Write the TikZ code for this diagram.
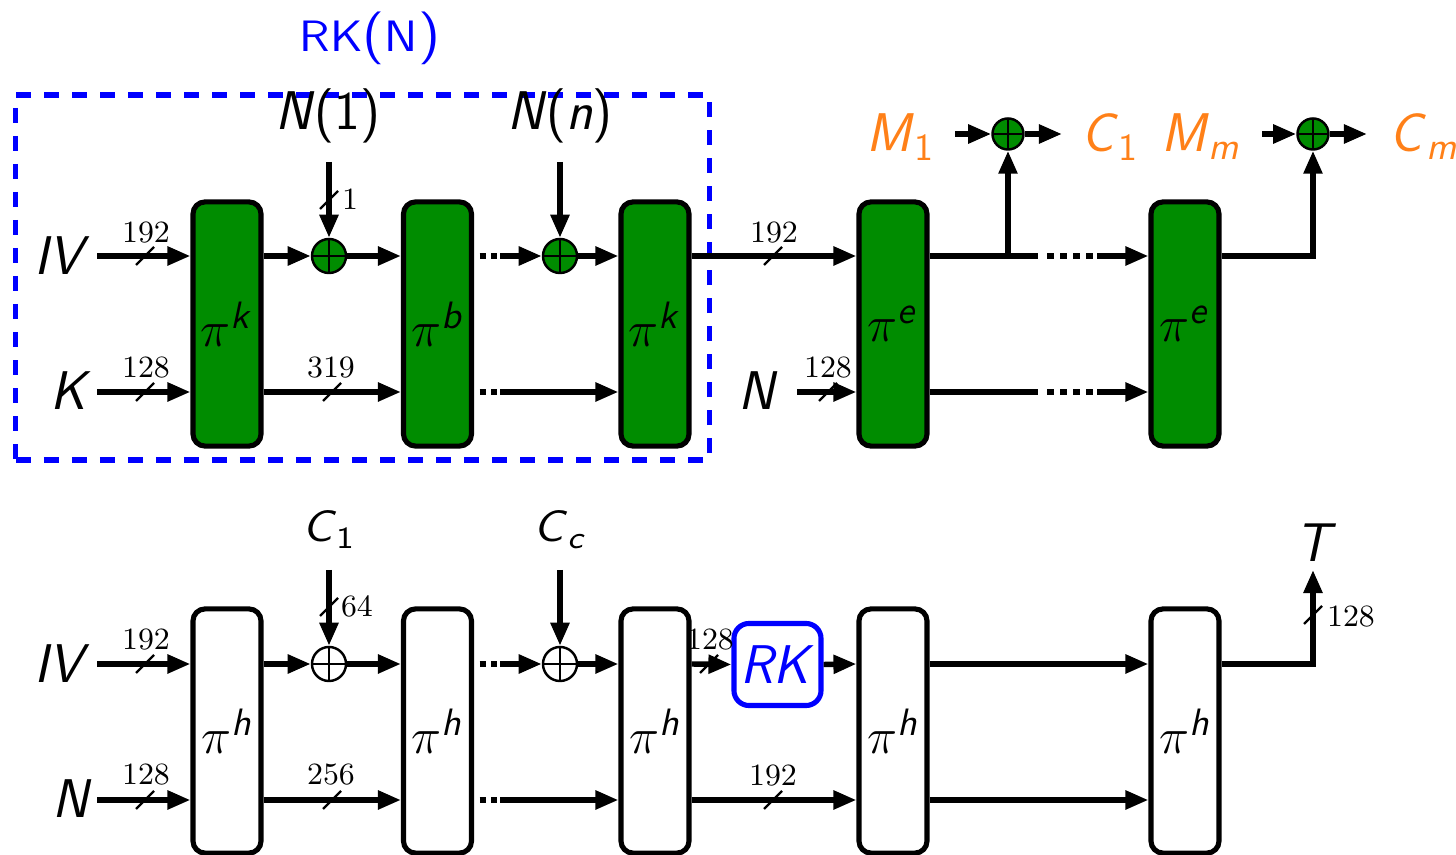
\documentclass[tikz,border=0pt]{standalone}
\usepackage{amsmath}
\usepackage{fontspec}
\usepackage{graphicx}
\usetikzlibrary{arrows.meta}

\definecolor{gblock}{RGB}{0,140,0}
\definecolor{lorange}{RGB}{255,128,24}
\newcommand{\bigf}{\fontsize{15.5}{18}\selectfont\sffamily}
\newcommand{\midf}{\fontsize{12.5}{14}\selectfont\sffamily}
\newcommand{\numf}{\fontsize{8.8}{10}\selectfont\rmfamily}
\newcommand{\piS}[1]{$\pi^{\textsf{\textit{#1}}}$}

\begin{document}
\begin{tikzpicture}[x=0.01cm,y=-0.01cm,
  lab/.style={inner sep=0pt, font=\bigf, anchor=base},
  num/.style={inner sep=0pt, font=\numf, anchor=base},
  conn/.style={line width=1.55pt, -{Triangle[length=0.23cm,width=0.18cm]}},
  wire/.style={line width=1.55pt},
  dotw/.style={line width=1.55pt, dash pattern=on 0.06cm off 0.055cm},
  dotl/.style={line width=1.55pt, dash pattern=on 0.07cm off 0.06cm},
  gbox/.style={draw, line width=1.45pt, rounded corners=0.12cm, fill=gblock,
    minimum width=0.68cm, minimum height=2.44cm, inner sep=0pt, font=\bigf},
  wbox/.style={gbox, fill=white},
  xorbase/.style={circle, draw, line width=0.7pt, inner sep=0pt, minimum size=0.34cm,
    path picture={\draw[line width=0.7pt]
      (path picture bounding box.north) -- (path picture bounding box.south)
      (path picture bounding box.west) -- (path picture bounding box.east);}},
  xorg/.style={xorbase, fill=gblock},
  xorw/.style={xorbase, fill=white},
  bitmark/.pic={\draw[line width=0.7pt] (-9,9) -- (9,-9);}
]
\useasboundingbox (0,0) rectangle (1456,855);

\coordinate (rA) at (0,256);
\coordinate (rB) at (0,392);
\coordinate (rC) at (0,664);
\coordinate (rD) at (0,800);

% ---------------- top: blocks ----------------
\foreach \n/\x/\s in {b1/227/k, b2/437.5/b, b3/655/k, b4/893/e, b5/1185/e}
  \node[gbox] (\n) at (\x,324) {\piS{\s}};

% RK(N) frame
\node[draw=blue, line width=1.5pt, dash pattern=on 0.15cm off 0.13cm,
  minimum width=6.93cm, minimum height=3.65cm, inner sep=0pt] (rkframe) at (362.5,277.5) {};
\node[inner sep=0pt, text=blue, anchor=base] (rkn) at (370,52)
  {\scalebox{1.1}[1]{\midf RK{\fontsize{15}{17}\selectfont(}N{\fontsize{15}{17}\selectfont)}}};

% inputs
\node[lab] (ivA) at (62,275) {\textit{IV}};
\node[lab] (kA) at (71,410) {\textit{K}};
\coordinate (ivAs) at (97,256);
\coordinate (kAs) at (97,392);
\draw[conn] (ivAs) -- (b1.west |- rA);
\draw[conn] (kAs) -- (b1.west |- rB);
\pic at (145,256) {bitmark};
\node[num] (lA1) at (146,243) {192};
\pic at (145,392) {bitmark};
\node[num] (lA2) at (146,378) {128};

% xors with N(1), N(n)
\node[xorg] (x1) at (329,256) {};
\node[xorg] (x2) at (560,256) {};
\node[lab] (n1) at (328,130) {\textit{N}(1)};
\node[lab] (nn) at (560,130) {\textit{N}(\textit{n})};
\coordinate (n1s) at (329,162);
\coordinate (nns) at (560,162);
\draw[conn] (n1s) -- (x1.north);
\draw[conn] (nns) -- (x2.north);
\pic at (329,200) {bitmark};
\node[num] (lA3) at (350,210) {1};

\draw[conn] (b1.east |- rA) -- (x1.west);
\draw[conn] (x1.east) -- (b2.west |- rA);
\draw[conn] (b1.east |- rB) -- (b2.west |- rB);
\pic at (332,392) {bitmark};
\node[num] (lA4) at (331,378) {319};

\coordinate (dA2) at (500,256);
\coordinate (dB2) at (500,392);
\draw[dotw, shorten <=0.055cm] (b2.east |- rA) -- (dA2);
\draw[conn] (dA2) -- (x2.west);
\draw[dotw, shorten <=0.055cm] (b2.east |- rB) -- (dB2);
\draw[conn] (dB2) -- (b3.west |- rB);
\draw[conn] (x2.east) -- (b3.west |- rA);

\draw[conn] (b3.east |- rA) -- (b4.west |- rA);
\pic at (773,256) {bitmark};
\node[num] (lA5) at (774,243) {192};

\node[lab] (nA) at (758,410) {\textit{N}};
\coordinate (nAs) at (797,392);
\draw[conn] (nAs) -- (b4.west |- rB);
\pic at (828,392) {bitmark};
\node[num] (lA6) at (828,378) {128};

% encryption part
\node[xorg, minimum size=0.31cm] (xm1) at (1008,134) {};
\node[xorg, minimum size=0.31cm] (xm2) at (1313,134) {};
\coordinate (wA) at (1038,256);
\coordinate (dA3) at (1097,256);
\coordinate (wB) at (1038,392);
\coordinate (dB3) at (1097,392);
\draw[wire] (b4.east |- rA) -- (wA);
\draw[dotl, shorten <=0.09cm] (wA) -- (dA3);
\draw[conn] (dA3) -- (b5.west |- rA);
\draw[wire] (b4.east |- rB) -- (wB);
\draw[dotl, shorten <=0.09cm] (wB) -- (dB3);
\draw[conn] (dB3) -- (b5.west |- rB);
\draw[conn] (xm1 |- rA) -- (xm1.south);
\draw[conn] (b5.east |- rA) -| (xm2.south);

\node[lab, text=lorange] (m1) at (901,152) {\textit{M}\textsubscript{\upshape 1}};
\node[lab, text=lorange] (c1) at (1110,152) {\textit{C}\textsubscript{\upshape 1}};
\node[lab, text=lorange] (mm) at (1201,152) {\textit{M}\textsubscript{\textit{m}}};
\node[lab, text=lorange] (cm) at (1424,152) {\textit{C}\textsubscript{\textit{m}}};
\coordinate (m1s) at (955,134);
\coordinate (c1e) at (1062,134);
\coordinate (mms) at (1262,134);
\coordinate (cme) at (1367,134);
\draw[conn] (m1s) -- (xm1.west);
\draw[conn] (xm1.east) -- (c1e);
\draw[conn] (mms) -- (xm2.west);
\draw[conn] (xm2.east) -- (cme);

% ---------------- bottom: blocks ----------------
\foreach \n/\x in {h1/227, h2/437.5, h3/655, h4/893, h5/1185}
  \node[wbox] (\n) at (\x,731) {\piS{h}};

\node[lab] (ivB) at (62,683) {\textit{IV}};
\node[lab] (nB) at (72,818) {\textit{N}};
\coordinate (ivBs) at (97,664);
\coordinate (nBs) at (97,800);
\draw[conn] (ivBs) -- (h1.west |- rC);
\draw[conn] (nBs) -- (h1.west |- rD);
\pic at (145,664) {bitmark};
\node[num] (lB1) at (146,650) {192};
\pic at (145,800) {bitmark};
\node[num] (lB2) at (146,785) {128};

\node[xorw] (y1) at (329,664) {};
\node[xorw] (y2) at (560,664) {};
\node[inner sep=0pt, anchor=base] (cc1) at (329,542)
  {\scalebox{1.1}[1]{\midf\textit{C}\textsubscript{\upshape 1}}};
\node[inner sep=0pt, anchor=base] (ccc) at (560,542)
  {\scalebox{1.1}[1]{\midf\textit{C}\textsubscript{\textit{c}}}};
\coordinate (cc1s) at (329,570);
\coordinate (cccs) at (560,570);
\draw[conn] (cc1s) -- (y1.north);
\draw[conn] (cccs) -- (y2.north);
\pic at (329,607) {bitmark};
\node[num] (lB3) at (357,617) {64};

\draw[conn] (h1.east |- rC) -- (y1.west);
\draw[conn] (y1.east) -- (h2.west |- rC);
\draw[conn] (h1.east |- rD) -- (h2.west |- rD);
\pic at (332,800) {bitmark};
\node[num] (lB4) at (331,785) {256};

\coordinate (dC2) at (500,664);
\coordinate (dD2) at (500,800);
\draw[dotw, shorten <=0.055cm] (h2.east |- rC) -- (dC2);
\draw[conn] (dC2) -- (y2.west);
\draw[dotw, shorten <=0.055cm] (h2.east |- rD) -- (dD2);
\draw[conn] (dD2) -- (h3.west |- rD);
\draw[conn] (y2.east) -- (h3.west |- rC);

\node[draw=blue, line width=1.45pt, rounded corners=0.15cm, minimum width=0.87cm,
  minimum height=0.82cm, inner sep=0pt, text=blue, font=\bigf] (rk) at (777.5,664.5) {\textit{RK}};
\draw[conn] (h3.east |- rC) -- (rk.west);
\pic at (709,664) {bitmark};
\node[num] (lB5) at (710,650) {128};
\draw[conn] (rk.east) -- (h4.west |- rC);

\draw[conn] (h3.east |- rD) -- (h4.west |- rD);
\pic at (773,800) {bitmark};
\node[num] (lB6) at (773,786) {192};

\draw[conn] (h4.east |- rC) -- (h5.west |- rC);
\draw[conn] (h4.east |- rD) -- (h5.west |- rD);

\coordinate (tEnd) at (1313,570);
\draw[conn] (h5.east |- rC) -| (tEnd);
\pic at (1313,615) {bitmark};
\node[num] (lB7) at (1351,627) {128};
\node[lab] (tB) at (1316,562) {\textit{T}};

\end{tikzpicture}
\end{document}
